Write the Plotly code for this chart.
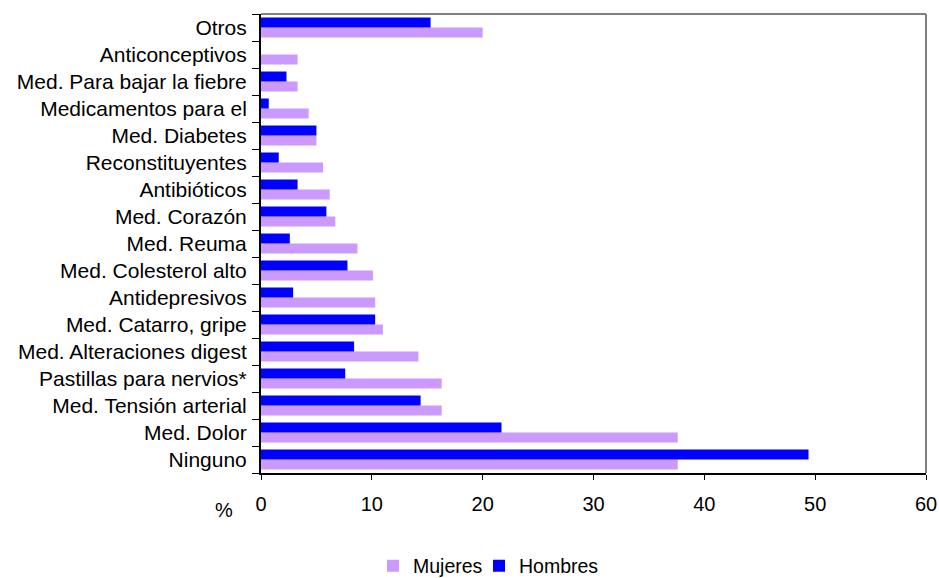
import plotly.graph_objects as go

categories = ["Ninguno", "Med. Dolor", "Med. Tensión arterial", "Pastillas para nervios*",
              "Med. Alteraciones digest", "Med. Catarro, gripe", "Antidepresivos",
              "Med. Colesterol alto", "Med. Reuma", "Med. Corazón", "Antibióticos",
              "Reconstituyentes", "Med. Diabetes", "Medicamentos para el",
              "Med. Para bajar la fiebre", "Anticonceptivos", "Otros"]
mujeres = [37.6, 37.6, 16.3, 16.3, 14.2, 11.0, 10.3, 10.1, 8.7, 6.7, 6.2, 5.6, 5.0, 4.3, 3.3, 3.3, 20.0]
hombres = [49.4, 21.7, 14.4, 7.6, 8.4, 10.3, 2.9, 7.8, 2.6, 5.9, 3.3, 1.6, 5.0, 0.7, 2.3, 0.0, 15.3]
x_ticks = [0, 10, 20, 30, 40, 50, 60]

FONT = "Liberation Sans, Arial, sans-serif"

fig = go.Figure()
fig.add_trace(go.Bar(y=categories, x=mujeres, orientation="h", name="Mujeres",
                     legend="legend",
                     marker=dict(color="#CC99FF", line=dict(width=0))))
fig.add_trace(go.Bar(y=categories, x=hombres, orientation="h", name="Hombres",
                     legend="legend2",
                     marker=dict(color="#0000FF", line=dict(width=0))))

PLOT_H = 578 - 14 - 105

legend_common = dict(orientation="h", xref="container", yref="container",
                     xanchor="left", y=(578 - 566) / 578, yanchor="middle",
                     font=dict(size=19.5), itemwidth=30, itemclick=False,
                     bgcolor="rgba(0,0,0,0)")

fig.update_layout(
    width=939, height=578,
    margin=dict(l=261, r=13, t=14, b=105),
    paper_bgcolor="white", plot_bgcolor="white",
    barmode="group", bargap=0.26, bargroupgap=0,
    font=dict(family=FONT, size=20, color="black"),
    showlegend=True,
    legend=dict(x=373 / 939, **legend_common),
    legend2=dict(x=479 / 939, **legend_common),
    xaxis=dict(range=[0, 60], tickvals=x_ticks, ticks="outside", ticklen=5,
               tickcolor="black", showline=True, linecolor="black", linewidth=2,
               showgrid=False, zeroline=False, ticklabelstandoff=7,
               tickfont=dict(size=20), automargin=False),
    yaxis=dict(categoryorder="array", categoryarray=categories, tickson="boundaries",
               ticks="outside", ticklen=7, tickcolor="black", showline=True,
               linecolor="black", linewidth=2, showgrid=False, zeroline=False,
               ticklabelstandoff=8, tickfont=dict(size=21), automargin=False),
    shapes=[
        dict(type="line", xref="paper", yref="paper", x0=0, x1=1, y0=1, y1=1,
             line=dict(color="#808080", width=2)),
        dict(type="line", xref="paper", yref="paper", x0=1, x1=1, y0=0, y1=1,
             line=dict(color="#808080", width=2)),
    ],
    annotations=[dict(text="%", xref="paper", yref="paper", x=(224 - 261) / 665,
                      y=(473 - 510) / PLOT_H, showarrow=False, font=dict(size=20),
                      xanchor="center", yanchor="middle")],
)

fig.write_html("out.html", config={"displayModeBar": False},
               post_script="document.body.style.margin='0';")
